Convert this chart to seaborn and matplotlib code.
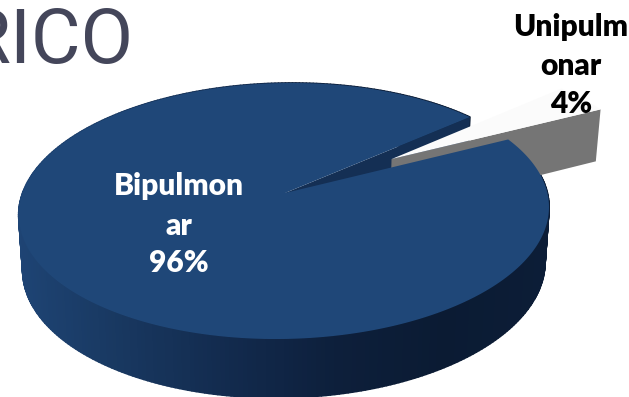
import numpy as np
import matplotlib
matplotlib.use("Agg")
import matplotlib.pyplot as plt
from matplotlib.collections import PolyCollection
from matplotlib.colors import to_hex
import seaborn as sns

# ---- data ----
categories = ["Unipulmonar", "Bipulmonar"]
label_lines = [["Unipulm", "onar", "4%"], ["Bipulmon", "ar", "96%"]]
values = [4, 96]
explode = [0.50, 0.0]
start_angle = 27

# ---- style ----
TOP_BLUE = "#1f4778"
CUT_BLUE = "#142f54"
SLICE_TOP = "#fbfbfb"
SLICE_SIDE = "#757575"
TITLE_COL = "#44465a"
side_stops = ["#1e4474", "#18375f", "#122a4d", "#0d1f3b", "#0b1b33", "#0c1d37"]

sns.set_theme(style="white")
plt.rcParams["font.family"] = ["Lato", "DejaVu Sans"]
side_ramp = sns.blend_palette(side_stops, n_colors=256)

fig = plt.figure(figsize=(6.29, 3.97), dpi=100)
ax = fig.add_axes([0, 0, 1, 1])

wedges, _ = ax.pie(values, explode=explode, startangle=start_angle, counterclock=True)
geom = [(np.array(w.center, float), w.r, w.theta1, w.theta2) for w in wedges]
for w in wedges:
    w.remove()

ax.set_aspect("auto")
ax.set_xlim(0, 629)
ax.set_ylim(397, 0)
ax.axis("off")

# perspective view of the pie plane
AX0, AY0 = 285.0, 193.0
A, B, K, S = 262.4, 125.5, 0.1406, 8.0


def project(p):
    p = np.atleast_2d(p)
    w = 1 + K * p[:, 1]
    return np.c_[AX0 + (A * p[:, 0] + S * p[:, 1]) / w, AY0 - B * p[:, 1] / w]


def drop(q):
    q = np.atleast_2d(q)
    return np.c_[283 + (q[:, 0] - 283) * 0.985, 163 + (q[:, 1] - 111) * 1.03]


def arc(center, r, t1, t2, n=400):
    t = np.radians(np.linspace(t1, t2, n))
    return center + r * np.c_[np.cos(t), np.sin(t)]


(c_s, r_s, t1_s, t2_s), (c_b, r_b, t1_b, t2_b) = geom

# big slice: outer side wall, graded across x
rim = project(arc(c_b, r_b, t1_b, t2_b))
low = drop(rim)
quads = [[rim[i], rim[i + 1], low[i + 1], low[i]] for i in range(len(rim) - 1)]
idx = np.clip(((rim[:-1, 0] - 18) / 530 * 255).astype(int), 0, 255)
cols = [to_hex(side_ramp[i]) for i in idx]
ax.add_collection(PolyCollection(quads, facecolors=cols, edgecolors=cols, linewidths=1.2, zorder=1))

# big slice: cut face visible through the notch
apex_b = project(c_b)
edge = project(arc(c_b, r_b, t1_b, t1_b, 2))[0]
face = np.vstack([apex_b, edge, drop(edge), drop(apex_b)])
ax.fill(face[:, 0], face[:, 1], color=CUT_BLUE, lw=0, zorder=2)

# exploded slice: cut face and top
apex_s = project(c_s)
corner = project(arc(c_s, r_s, t1_s, t1_s, 2))[0]
face = np.vstack([apex_s, corner, drop(corner), drop(apex_s)])
ax.fill(face[:, 0], face[:, 1], color=SLICE_SIDE, lw=0, zorder=3)
top_s = np.vstack([apex_s, project(arc(c_s, r_s, t1_s, t2_s))])
ax.fill(top_s[:, 0], top_s[:, 1], color=SLICE_TOP, lw=0, zorder=4)

# big slice: top
top_b = np.vstack([apex_b, rim])
ax.fill(top_b[:, 0], top_b[:, 1], color=TOP_BLUE, lw=0, zorder=5)

# texts
ax.text(134, 63, "RICO", fontsize=55, color=TITLE_COL, family=["Roboto", "DejaVu Sans"],
        ha="right", va="baseline", zorder=6)
label_x = [571, 179]
label_y = [[36, 75, 113], [195, 235, 272]]
label_col = ["#000000", "#ffffff"]
for lines, x, ys, col in zip(label_lines, label_x, label_y, label_col):
    for line, y in zip(lines, ys):
        ax.text(x, y, line, fontsize=21.5, fontweight="heavy", color=col,
                ha="center", va="baseline", zorder=7)

fig.savefig("out.png", dpi=100, facecolor="white")
